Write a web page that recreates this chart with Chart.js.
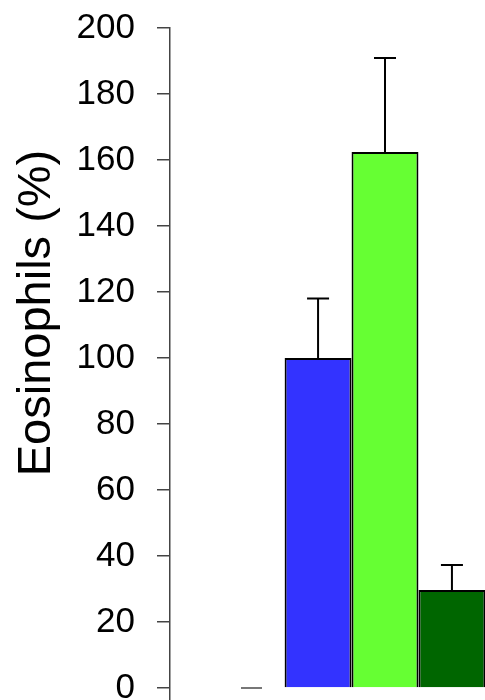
<!DOCTYPE html>
<html lang="en">
<head>
    <meta charset="UTF-8">
    <title>Eosinophils</title>
    <script src="https://cdn.jsdelivr.net/npm/chart.js"></script>
    <style>
        html, body {
            margin: 0;
            padding: 0;
            background: #fff;
            overflow: hidden;
        }

        /* chart is wider than the window so the last bar gets cut off */
        .chart-container {
            width: 600px;
            height: 700px;
        }
    </style>
</head>
<body>
    <div class="chart-container">
        <canvas id="eos-chart"></canvas>
    </div>

    <script>
        // Data
        const categories = [''];
        const groupNames = ['Group 1', 'Group 2', 'Group 3'];
        const meanValues = [100, 162.4, 29.7];
        const errorValues = [18, 28.5, 7.6];
        const barColors = ['#3333FF', '#66FF33', '#006600'];
        const yTicks = [0, 20, 40, 60, 80, 100, 120, 140, 160, 180, 200];
        const yTitle = 'Eosinophils (%)';

        const fontFamily = 'Liberation Sans, Arial, sans-serif';

        // Draw upward error bars on top of each bar
        const errorBarPlugin = {
            id: 'errorBars',
            afterDatasetsDraw(chart) {
                const ctx = chart.ctx;
                const yScale = chart.scales.y;
                ctx.save();
                ctx.strokeStyle = '#000';
                ctx.lineWidth = 2;
                chart.data.datasets.forEach((ds, i) => {
                    const bar = chart.getDatasetMeta(i).data[0];
                    const yTop = yScale.getPixelForValue(ds.data[0] + errorValues[i]);
                    ctx.beginPath();
                    ctx.moveTo(bar.x, bar.y);
                    ctx.lineTo(bar.x, yTop);
                    ctx.moveTo(bar.x - 11, yTop);
                    ctx.lineTo(bar.x + 11, yTop);
                    ctx.stroke();
                });
                ctx.restore();
            }
        };

        // Axis title sits higher than the scale's middle in the original,
        // plus the short leftover piece of baseline left of the bars
        const extrasPlugin = {
            id: 'extras',
            afterDraw(chart) {
                const ctx = chart.ctx;
                const y0 = chart.scales.y.getPixelForValue(0);
                ctx.save();
                ctx.strokeStyle = '#777';
                ctx.lineWidth = 2;
                ctx.beginPath();
                ctx.moveTo(241, y0);
                ctx.lineTo(262, y0);
                ctx.stroke();

                ctx.translate(50, 313);
                ctx.rotate(-Math.PI / 2);
                ctx.font = '47px ' + fontFamily;
                ctx.fillStyle = '#000';
                ctx.textAlign = 'center';
                ctx.textBaseline = 'alphabetic';
                ctx.fillText(yTitle, 0, 0);
                ctx.restore();
            }
        };

        const ctx = document.getElementById('eos-chart').getContext('2d');
        new Chart(ctx, {
            type: 'bar',
            data: {
                labels: categories,
                datasets: groupNames.map((name, i) => ({
                    label: name,
                    data: [meanValues[i]],
                    backgroundColor: barColors[i],
                    borderColor: '#000',
                    borderWidth: 2,
                    borderSkipped: 'bottom',
                    barPercentage: 1,
                    categoryPercentage: 0.467
                }))
            },
            options: {
                responsive: true,
                maintainAspectRatio: false,
                animation: false,
                layout: { padding: { top: 28, left: 0, right: 0, bottom: 0 } },
                plugins: {
                    legend: { display: false },
                    tooltip: { enabled: false }
                },
                scales: {
                    x: { display: false },
                    y: {
                        min: -3.64,
                        max: 200,
                        afterBuildTicks: (scale) => {
                            scale.ticks = yTicks.map(v => ({ value: v }));
                        },
                        afterFit: (scale) => {
                            scale.width = 170;
                            // labels may hang over the edges, no extra padding
                            scale.paddingTop = 0;
                            scale.paddingBottom = 0;
                        },
                        ticks: {
                            color: '#000',
                            padding: 22,
                            font: { family: fontFamily, size: 35 }
                        },
                        grid: {
                            drawOnChartArea: false,
                            tickLength: 13,
                            color: '#444',
                            lineWidth: 1.5
                        },
                        border: { display: true, color: '#444', width: 1.5 }
                    }
                }
            },
            plugins: [errorBarPlugin, extrasPlugin]
        });
    </script>
</body>
</html>
